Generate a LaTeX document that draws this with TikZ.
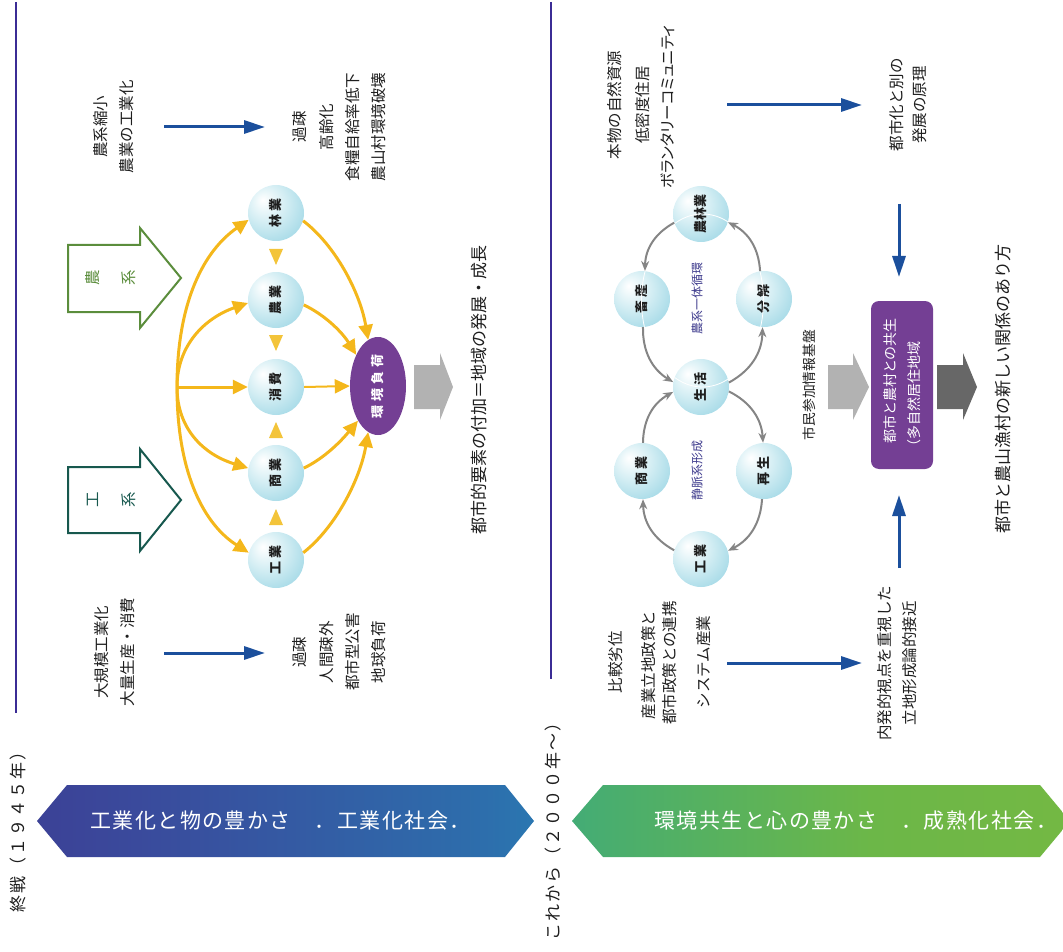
\documentclass[tikz,border=0pt]{standalone}
\usepackage{fontspec}
\usepackage{graphicx}
\setmainfont{Noto Sans CJK JP}
\usetikzlibrary{arrows.meta,shapes.geometric}

\definecolor{rulecol}{HTML}{3B2C95}
\definecolor{flowblue}{HTML}{1B4F9C}
\definecolor{amber}{HTML}{F4B71B}
\definecolor{amberlight}{HTML}{F3C43A}
\definecolor{plum}{HTML}{743F94}
\definecolor{cyclegray}{HTML}{858585}
\definecolor{agri}{HTML}{5B8D3C}
\definecolor{indus}{HTML}{17584E}
\definecolor{loopblue}{HTML}{3D3A8C}
\definecolor{blockpale}{HTML}{B2B2B2}
\definecolor{blockdark}{HTML}{676767}
\definecolor{inkdark}{HTML}{1E1E1E}
\definecolor{orbA}{HTML}{D2EDF3}
\definecolor{orbB}{HTML}{93D2E2}
\definecolor{orbC}{HTML}{58B4CC}
\definecolor{oldA}{HTML}{402C88}
\definecolor{oldB}{HTML}{3A4A9C}
\definecolor{oldC}{HTML}{2D6EAC}
\definecolor{oldD}{HTML}{1FA3CA}
\definecolor{newA}{HTML}{1FA2A8}
\definecolor{newB}{HTML}{4BAE6C}
\definecolor{newC}{HTML}{6CB748}
\definecolor{newD}{HTML}{7DB93E}

% sphere-like fill for the sector circles, light spot at the upper left
\pgfdeclareradialshading{orb}{\pgfpoint{-12bp}{12bp}}{color(0bp)=(white); color(18bp)=(orbA); color(42bp)=(orbB); color(67bp)=(orbC)}
% colour runs of the two era bands
\pgfdeclarehorizontalshading{oldband}{100bp}{color(0bp)=(oldA); color(35bp)=(oldB); color(70bp)=(oldC); color(100bp)=(oldD)}
\pgfdeclarehorizontalshading{newband}{100bp}{color(0bp)=(newA); color(30bp)=(newB); color(55bp)=(newC); color(100bp)=(newD)}

\begin{document}
\begin{tikzpicture}[x=1pt,y=-1pt,
  vtxt/.style={rotate=90, inner sep=0pt, align=center, text=inkdark},
  body/.style={vtxt, font=\fontsize{15.5}{26}\selectfont},
  headline/.style={vtxt, font=\fontsize{17}{20}\selectfont},
  era/.style={vtxt, anchor=west, font=\fontsize{17}{20}\selectfont\addfontfeatures{LetterSpace=12}},
  bandtext/.style={anchor=west, inner sep=0pt, text=white, font=\fontsize{21}{24}\selectfont\addfontfeatures{LetterSpace=7}},
  orbnode/.style={circle, minimum size=56pt, inner sep=0pt, shade, shading=orb, text=inkdark, font=\fontsize{13}{15}\selectfont\bfseries},
  loadnode/.style={ellipse, fill=plum, minimum width=56pt, minimum height=98pt, inner sep=0pt, text=white, font=\fontsize{13}{15}\selectfont\bfseries},
  looplabel/.style={vtxt, text=loopblue, font=\fontsize{12}{14}\selectfont},
  boxtext/.style={vtxt, text=white, font=\fontsize{14}{16}\selectfont},
  feedarrow/.style={amber, line width=3pt, -{Triangle[length=15pt,width=14pt]}},
  looparrow/.style={cyclegray, line width=2pt, -{Stealth[length=10pt,width=8pt]}},
  flowarrow/.style={flowblue, line width=3pt, -{Triangle[length=21pt,width=13pt]}},
  cue/.style={amberlight},
  rulebar/.style={rulecol, line width=1.3pt},
  hollow/.style={line width=2pt, line join=miter}
]
\useasboundingbox (0,0) rectangle (1063,952);

% ---------- era captions, rules and bands ----------
\node[era] (eraold) at (18,913) {終戦（１９４５年）};
\node[era] (eranew) at (553,941) {これから（２０００年〜）};
\draw[rulebar] (16,2) -- (16,713);
\draw[rulebar] (551,2) -- (551,679);

\shade[shading=oldband] (37,821) -- (67,785) -- (505,785) -- (534,821) -- (505,857) -- (67,857) -- cycle;
\node[bandtext] (oldtheme) at (90,821) {工業化と物の豊かさ　．工業化社会．};
\shade[shading=newband] (572,821) -- (603,785) -- (1040,785) -- (1070,821) -- (1040,857) -- (603,857) -- cycle;
\node[bandtext] (newtheme) at (654,821) {環境共生と心の豊かさ　．成熟化社会．};

% ---------- industrial era ----------
\node[body] (shrink) at (114,127) {農系縮小\\農業の工業化};
\node[body, font=\fontsize{15.5}{26.3}\selectfont] (ruralill) at (339.5,127) {過疎\\高齢化\\食糧自給率低下\\農山村環境破壊};
\coordinate (f1s) at (164,127);
\coordinate (f1e) at (265,127);
\draw[flowarrow] (f1s) -- (f1e);

\node[body] (mass) at (115,652) {大規模工業化\\大量生産・消費};
\node[body, font=\fontsize{15.5}{26.3}\selectfont] (urbanill) at (339.5,652) {過疎\\人間疎外\\都市型公害\\地球負荷};
\coordinate (f2s) at (164,653);
\coordinate (f2e) at (265,653);
\draw[flowarrow] (f2s) -- (f2e);

% hollow block arrows of the two sector groups
\draw[agri, hollow] (68,245) -- (140,245) -- (140,228) -- (181,278) -- (140,328) -- (140,312) -- (68,312) -- cycle;
\node[vtxt, text=agri, font=\fontsize{15.5}{36}\selectfont] (agrilabel) at (111,278) {農\\系};
\draw[indus, hollow] (68,467) -- (140,467) -- (140,449) -- (181,500) -- (140,551) -- (140,533) -- (68,533) -- cycle;
\node[vtxt, text=indus, font=\fontsize{15.5}{36}\selectfont] (induslabel) at (111,500) {工\\系};

% sectors and the environmental load
\node[orbnode] (ly) at (276,213) {\rotatebox{90}{林 業}};
\node[orbnode] (ny) at (276,300) {\rotatebox{90}{農 業}};
\node[orbnode] (xf) at (276,387) {\rotatebox{90}{消 費}};
\node[orbnode] (sy) at (276,473) {\rotatebox{90}{商 業}};
\node[orbnode] (ky) at (276,560) {\rotatebox{90}{工 業}};
\node[loadnode] (load) at (378,386) {\rotatebox{90}{環\kern4pt 境\kern4pt 負\kern4pt 荷}};

% small wedges between neighbouring sectors
\fill[cue] (269,249) -- (283,249) -- (276,265) -- cycle;
\fill[cue] (269,335) -- (283,335) -- (276,351) -- cycle;
\fill[cue] (269,438) -- (283,438) -- (276,422) -- cycle;
\fill[cue] (269,525) -- (283,525) -- (276,509) -- cycle;

% fan of inputs into the sectors
\coordinate (src) at (177,387);
\draw[feedarrow] (src) .. controls (177,300) and (205,250) .. (ly.194);
\draw[feedarrow] (src) .. controls (177,345) and (205,318) .. (ny.186);
\draw[feedarrow] (src) -- (xf.west);
\draw[feedarrow] (src) .. controls (177,430) and (205,455) .. (sy.170);
\draw[feedarrow] (src) .. controls (177,475) and (205,525) .. (ky.165);

% sectors into the environmental load
\draw[feedarrow] (ly.344) .. controls (335,245) and (360,292) .. (load.102);
\draw[feedarrow] (ny.350) .. controls (325,315) and (342,332) .. (load.125);
\draw[feedarrow, line width=2pt] (xf.east) -- (load.west);
\draw[feedarrow] (sy.10) .. controls (325,458) and (342,440) .. (load.240);
\draw[feedarrow] (ky.15) .. controls (335,528) and (360,480) .. (load.258);

\fill[blockpale] (414,365) -- (440,365) -- (440,353) -- (453,387) -- (440,420) -- (440,409) -- (414,409) -- cycle;
\node[headline] (urbanadd) at (479,390) {都市的要素の付加＝地域の発展・成長};

% ---------- coming era ----------
\node[body] (res1) at (615,105) {本物の自然資源};
\node[body] (res2) at (643,105) {低密度住居};
\node[body, font=\fontsize{15.5}{26}\selectfont\addfontfeatures{RawFeature=+palt}] (res3) at (668,107) {ボランタリーコミュニティ};
\coordinate (f3s) at (727,105);
\coordinate (f3e) at (862,105);
\draw[flowarrow] (f3s) -- (f3e);
\node[body, font=\fontsize{15.5}{23}\selectfont] (altdev) at (908.5,105) {都市化と別の\\発展の原理};
\coordinate (f5s) at (899,204);
\coordinate (f5e) at (899,277);
\draw[flowarrow] (f5s) -- (f5e);

\node[body] (lo1) at (616,662) {比較劣位};
\node[body] (lo2) at (649,665) {産業立地政策と};
\node[body] (lo3) at (670,663) {都市政策との連携};
\node[body] (lo4) at (704,662) {システム産業};
\coordinate (f4s) at (727,663);
\coordinate (f4e) at (862,663);
\draw[flowarrow] (f4s) -- (f4e);
\node[body, font=\fontsize{15.5}{25}\selectfont] (endo) at (897.5,663) {内発的視点を重視した\\立地形成論的接近};
\coordinate (f6s) at (899,568);
\coordinate (f6e) at (899,495);
\draw[flowarrow] (f6s) -- (f6e);

% circulation of sectors
\node[orbnode] (np) at (701,214) {\rotatebox{90}{農林業}};
\node[orbnode] (ch) at (642,299) {\rotatebox{90}{畜 産}};
\node[orbnode] (bk) at (764,299) {\rotatebox{90}{分 解}};
\node[orbnode] (sk) at (701,387) {\rotatebox{90}{生 活}};
\node[orbnode] (sg) at (642,471) {\rotatebox{90}{商 業}};
\node[orbnode] (rs) at (764,471) {\rotatebox{90}{再 生}};
\node[orbnode] (kg) at (701,559) {\rotatebox{90}{工 業}};

\begin{scope}
  \clip (np.center) circle[radius=28pt] (ch.center) circle[radius=28pt]
        (bk.center) circle[radius=28pt] (sk.center) circle[radius=28pt];
  \draw[white, line width=0.8pt] (702.5,300.5) ellipse[x radius=61pt, y radius=86.5pt];
\end{scope}

\node[looplabel] (agriloop) at (697,298) {農系一体循環};
\node[looplabel] (veinloop) at (697,470) {静脈系形成};

\draw[looparrow] (sk.9) to[bend right=30] (bk.267);
\draw[looparrow] (bk.98) to[bend right=30] (np.343);
\draw[looparrow] (np.198) to[bend right=30] (ch.84);
\draw[looparrow] (ch.272) to[bend right=30] (sk.170);
\draw[looparrow] (sk.351) to[bend left=30] (rs.92);
\draw[looparrow] (rs.266) to[bend left=30] (kg.17);
\draw[looparrow] (kg.162) to[bend left=30] (sg.272);
\draw[looparrow] (sg.88) to[bend left=30] (sk.190);

\node[vtxt, font=\fontsize{13.75}{16}\selectfont] (civic) at (809,385) {市民参加情報基盤};
\fill[blockpale] (828,365) -- (853,365) -- (853,353) -- (869,387) -- (853,420) -- (853,409) -- (828,409) -- cycle;

\node[rectangle, rounded corners=8pt, fill=plum, minimum width=62pt, minimum height=168pt, inner sep=0pt] (coexist) at (902,385) {};
\node[boxtext] (coexist1) at (890,381) {都市と農村との共生};
\node[boxtext] (coexist2) at (914,397) {（多自然居住地域};

\fill[blockdark] (937,365) -- (963,365) -- (963,353) -- (977,387) -- (963,420) -- (963,409) -- (937,409) -- cycle;
\node[headline] (newrel) at (1003,389) {都市と農山漁村の新しい関係のあり方};
\end{tikzpicture}
\end{document}
